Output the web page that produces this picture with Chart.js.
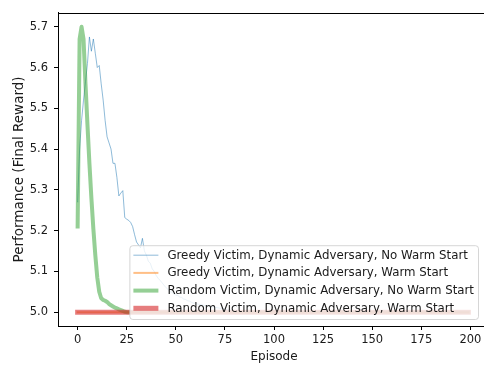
<!DOCTYPE html>
<html>
<head>
<meta charset="utf-8">
<script src="https://cdn.jsdelivr.net/npm/chart.js@4.4.1/dist/chart.umd.min.js"></script>
<style>
  html, body { margin: 0; padding: 0; background: #fff; overflow: hidden; }
  #wrap { width: 491px; height: 367px; }
</style>
</head>
<body>
<div id="wrap"><canvas id="chart" width="491" height="367"></canvas></div>
<script>
// valores (índice = episódio)
const greedyNoWarm = [
  5.27, 5.40, 5.47, 5.52, 5.565, 5.61, 5.675, 5.64, 5.67, 5.635,
  5.60, 5.605, 5.56, 5.52, 5.47, 5.43, 5.415, 5.40, 5.365, 5.365,
  5.33, 5.285, 5.292, 5.298, 5.232, 5.228, 5.225, 5.22, 5.21, 5.19,
  5.172, 5.165, 5.158, 5.181, 5.15, 5.14, 5.125, 5.12, 5.106, 5.10,
  5.09, 5.083, 5.078, 5.072, 5.066, 5.06, 5.056, 5.05, 5.049, 5.044,
  5.042, 5.041, 5.037, 5.036, 5.032, 5.031, 5.028, 5.027, 5.024, 5.022,
  5.022, 5.02, 5.019, 5.019, 5.017, 5.016, 5.016, 5.014, 5.014, 5.013,
  5.012, 5.011, 5.01, 5.009, 5.009, 5.007, 5.006, 5.005, 5.004, 5.003,
  5.002
];
const randomNoWarm = [
  5.21, 5.67, 5.70, 5.67, 5.56, 5.46, 5.365, 5.28, 5.205, 5.14,
  5.085, 5.05, 5.034, 5.03, 5.028, 5.025, 5.02, 5.017, 5.014, 5.011,
  5.009, 5.007, 5.005, 5.003, 5.001, 5.0
];
const warmStartEpisodes = [0, 199];
const greedyWarm = [5.0, 5.0];
const randomWarm = [5.0, 5.0];
const lastEpisode = 199;
const finalValue = 5.0;

const xTicks = [0, 25, 50, 75, 100, 125, 150, 175, 200];
const yTicks = [5.0, 5.1, 5.2, 5.3, 5.4, 5.5, 5.6, 5.7];

const labels = [
  'Greedy Victim, Dynamic Adversary, No Warm Start',
  'Greedy Victim, Dynamic Adversary, Warm Start',
  'Random Victim, Dynamic Adversary, No Warm Start',
  'Random Victim, Dynamic Adversary, Warm Start'
];

function toPoints(values) {
  const pts = values.map((v, i) => ({ x: i, y: v }));
  pts.push({ x: lastEpisode, y: finalValue });
  return pts;
}
function pairPoints(xs, ys) {
  return xs.map((x, i) => ({ x: x, y: ys[i] }));
}

const FONT = 'DejaVu Sans';
const TICK_FS = 11.5;
const LEGEND_FS = 11.8;
const TEXT = '#1a1a1a';

const framePlugin = {
  id: 'frame',
  afterDraw(chart) {
    const { ctx, chartArea: a } = chart;
    ctx.save();
    ctx.strokeStyle = '#000';
    ctx.lineWidth = 1;
    ctx.beginPath();
    ctx.moveTo(a.left, Math.round(a.top) + 0.5);
    ctx.lineTo(a.right, Math.round(a.top) + 0.5);
    ctx.stroke();
    ctx.restore();
  }
};

const legendBoxPlugin = {
  id: 'legendBox',
  afterDraw(chart) {
    const { ctx, chartArea: a } = chart;
    const ds = chart.data.datasets;
    ctx.save();
    ctx.font = LEGEND_FS + 'px "' + FONT + '"';
    const maxW = Math.max(...ds.map(d => ctx.measureText(d.label).width));
    const rowH = 17.7;
    const w = 4 + 25 + 9 + maxW + 4;
    const h = 10 + rowH * (ds.length - 1) + 10.7;
    const right = a.right - 12;
    const bottom = a.bottom - 7;
    const left = right - w;
    const top = bottom - h;

    ctx.beginPath();
    ctx.roundRect(left + 0.5, top + 0.5, w, h, 3);
    ctx.fillStyle = 'rgba(255,255,255,0.8)';
    ctx.fill();
    ctx.strokeStyle = 'rgba(204,204,204,0.8)';
    ctx.lineWidth = 1;
    ctx.stroke();

    ds.forEach((d, i) => {
      const cy = top + 10 + i * rowH;
      ctx.beginPath();
      ctx.strokeStyle = d.borderColor;
      ctx.lineWidth = d.borderWidth;
      ctx.lineCap = 'butt';
      ctx.moveTo(left + 4, cy);
      ctx.lineTo(left + 29, cy);
      ctx.stroke();
      ctx.fillStyle = TEXT;
      ctx.textBaseline = 'middle';
      ctx.textAlign = 'left';
      ctx.fillText(d.label, left + 38, cy + 0.5);
    });
    ctx.restore();
  }
};

new Chart(document.getElementById('chart'), {
  type: 'line',
  data: {
    datasets: [
      {
        label: labels[0],
        data: toPoints(greedyNoWarm),
        borderColor: 'rgba(31,119,180,0.5)',
        borderWidth: 1,
        order: 4
      },
      {
        label: labels[1],
        data: pairPoints(warmStartEpisodes, greedyWarm),
        borderColor: 'rgba(255,127,14,0.5)',
        borderWidth: 2,
        order: 3
      },
      {
        label: labels[2],
        data: toPoints(randomNoWarm),
        borderColor: 'rgba(44,160,44,0.5)',
        borderWidth: 4,
        order: 2
      },
      {
        label: labels[3],
        data: pairPoints(warmStartEpisodes, randomWarm),
        borderColor: 'rgba(214,39,40,0.6)',
        borderWidth: 5,
        order: 1
      }
    ]
  },
  options: {
    responsive: false,
    animation: false,
    devicePixelRatio: 1,
    layout: { padding: { top: 6, right: 1, left: 0, bottom: 0 } },
    elements: {
      point: { radius: 0 },
      line: { tension: 0, fill: false, borderCapStyle: 'square', borderJoinStyle: 'round' }
    },
    plugins: {
      legend: { display: false },
      tooltip: { enabled: false }
    },
    scales: {
      x: {
        type: 'linear',
        min: -10,
        max: 210,
        afterFit: s => { s.height = 41; },
        afterBuildTicks: s => { s.ticks = xTicks.map(v => ({ value: v })); },
        grid: { drawOnChartArea: false, tickLength: 4, color: '#000' },
        border: { display: true, color: '#000', width: 1 },
        ticks: {
          font: { family: FONT, size: TICK_FS },
          color: TEXT,
          padding: 3,
          maxRotation: 0,
          autoSkip: false
        },
        title: {
          display: true,
          text: 'Episode',
          font: { family: FONT, size: 12 },
          color: TEXT,
          padding: { top: 0, bottom: 2.5 }
        }
      },
      y: {
        type: 'linear',
        min: 4.966,
        max: 5.734,
        afterFit: s => { s.width = 58; },
        afterBuildTicks: s => { s.ticks = yTicks.map(v => ({ value: v })); },
        grid: { drawOnChartArea: false, tickLength: 4, color: '#000' },
        border: { display: true, color: '#000', width: 1 },
        ticks: {
          font: { family: FONT, size: TICK_FS },
          color: TEXT,
          padding: 6,
          callback: v => v.toFixed(1)
        },
        title: {
          display: true,
          text: 'Performance (Final Reward)',
          font: { family: FONT, size: 13.5 },
          color: TEXT,
          padding: { top: 10.9, bottom: 0 }
        }
      }
    }
  },
  plugins: [framePlugin, legendBoxPlugin]
});
</script>
</body>
</html>
